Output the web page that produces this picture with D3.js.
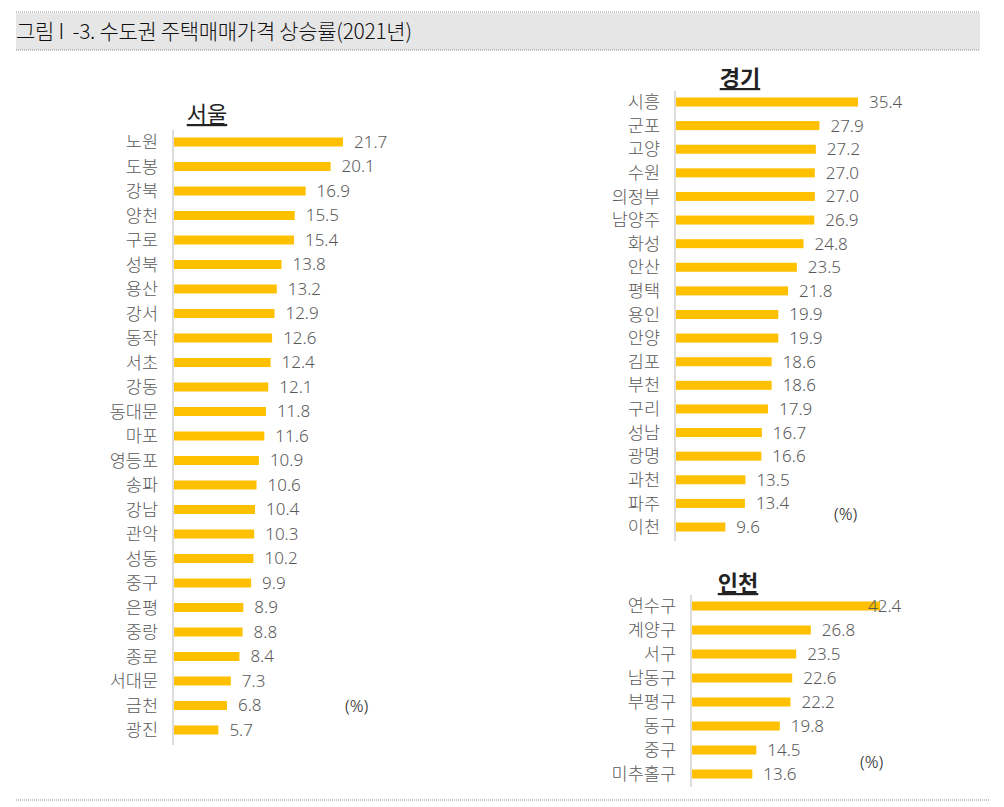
<!DOCTYPE html>
<html>
<head>
<meta charset="utf-8">
<title>수도권 주택매매가격 상승률(2021년)</title>
<script src="https://cdn.jsdelivr.net/npm/d3@7/dist/d3.min.js"></script>
<style>
body { margin: 0; background: #fff; }
svg { display: block; font-family: "Noto Sans CJK KR", "Noto Sans", sans-serif; }
.cat { fill: #595959; font-size: 17.5px; font-weight: 300; }
.val { fill: #595959; font-size: 17px; font-family: "Noto Sans", "Open Sans", sans-serif; font-weight: 300; }
.pct { fill: #222; font-size: 17px; font-family: "Noto Sans", "Open Sans", sans-serif; font-weight: 300; }
.head { fill: #222; font-size: 22px; text-decoration: underline; }
</style>
</head>
<body>
<svg width="1004" height="807"></svg>
<script>
var seoulNames = ["노원","도봉","강북","양천","구로","성북","용산","강서","동작","서초","강동","동대문","마포","영등포","송파","강남","관악","성동","중구","은평","중랑","종로","서대문","금천","광진"];
var seoulValues = [21.7,20.1,16.9,15.5,15.4,13.8,13.2,12.9,12.6,12.4,12.1,11.8,11.6,10.9,10.6,10.4,10.3,10.2,9.9,8.9,8.8,8.4,7.3,6.8,5.7];
var gyeonggiNames = ["시흥","군포","고양","수원","의정부","남양주","화성","안산","평택","용인","안양","김포","부천","구리","성남","광명","과천","파주","이천"];
var gyeonggiValues = [35.4,27.9,27.2,27.0,27.0,26.9,24.8,23.5,21.8,19.9,19.9,18.6,18.6,17.9,16.7,16.6,13.5,13.4,9.6];
var incheonNames = ["연수구","계양구","서구","남동구","부평구","동구","중구","미추홀구"];
var incheonValues = [42.4,26.8,23.5,22.6,22.2,19.8,14.5,13.6];

var svg = d3.select("svg");

// title band
svg.append("rect").attr("x", 16).attr("y", 13).attr("width", 964).attr("height", 37).attr("fill", "#e6e6e6");
[12, 50].forEach(function(y){
  svg.append("line").attr("x1", 16).attr("x2", 980).attr("y1", y).attr("y2", y)
    .attr("stroke", "#8c8c8c").attr("stroke-width", 1).attr("stroke-dasharray", "1,1");
});
svg.append("line").attr("x1", 16).attr("x2", 990).attr("y1", 800).attr("y2", 800)
  .attr("stroke", "#8c8c8c").attr("stroke-width", 1).attr("stroke-dasharray", "1,1");
svg.append("text").attr("x", 16).attr("y", 39).attr("fill", "#111")
  .style("font-size", "21px").style("font-weight", 300).style("letter-spacing", "-0.3px")
  .attr("xml:space", "preserve").style("white-space", "pre")
  .text("그림 I  -3. 수도권 주택매매가격 상승률(2021년)");

function panel(opt) {
  var g = svg.append("g");
  var x = d3.scaleLinear().domain([0, opt.max]).range([opt.x0, opt.x1]);
  var y = d3.scalePoint().domain(opt.names).range([opt.yTop, opt.yBot]);
  var data = opt.names.map(function(n, i){ return {name: n, v: opt.values[i]}; });

  g.append("line").attr("x1", opt.x0 - 1).attr("x2", opt.x0 - 1)
    .attr("y1", opt.axisTop).attr("y2", opt.axisBot)
    .attr("stroke", "#d0d0d0").attr("stroke-width", 1.5);

  g.selectAll(".bar").data(data).enter().append("rect")
    .attr("x", x(0)).attr("y", function(d){ return y(d.name) - 4.5; })
    .attr("width", function(d){ return x(d.v) - x(0); }).attr("height", 9)
    .attr("fill", "#ffc000");

  g.selectAll(".cat").data(data).enter().append("text").attr("class", "cat")
    .attr("x", opt.x0 - 16).attr("y", function(d){ return y(d.name); })
    .attr("dy", "0.35em").attr("text-anchor", "end").text(function(d){ return d.name; });

  g.selectAll(".val").data(data).enter().append("text").attr("class", "val")
    .attr("x", function(d){ return Math.min(x(d.v) + 11, opt.labelMax); })
    .attr("y", function(d){ return y(d.name); })
    .attr("dy", "0.35em").text(function(d){ return d.v.toFixed(1); });

  g.append("text").attr("class", "head").attr("x", opt.headX).attr("y", opt.headY)
    .attr("text-anchor", "middle").style("font-weight", opt.bold ? 700 : 400).text(opt.title);

  g.append("text").attr("class", "pct").attr("x", opt.pctX).attr("y", opt.pctY)
    .attr("dy", "0.35em").text("(%)");
}

panel({title: "서울", names: seoulNames, values: seoulValues, max: 21.7,
  x0: 174, x1: 343, yTop: 142, yBot: 730, axisTop: 130, axisBot: 745,
  headX: 207, headY: 122, bold: false, pctX: 345, pctY: 706, labelMax: 999});
panel({title: "경기", names: gyeonggiNames, values: gyeonggiValues, max: 35.4,
  x0: 676, x1: 858, yTop: 102, yBot: 527, axisTop: 91, axisBot: 541,
  headX: 740, headY: 86, bold: true, pctX: 834, pctY: 514, labelMax: 999});
panel({title: "인천", names: incheonNames, values: incheonValues, max: 42.4,
  x0: 692, x1: 880, yTop: 606, yBot: 774, axisTop: 595, axisBot: 787,
  headX: 738, headY: 591, bold: true, pctX: 860, pctY: 762, labelMax: 868});
</script>
</body>
</html>
